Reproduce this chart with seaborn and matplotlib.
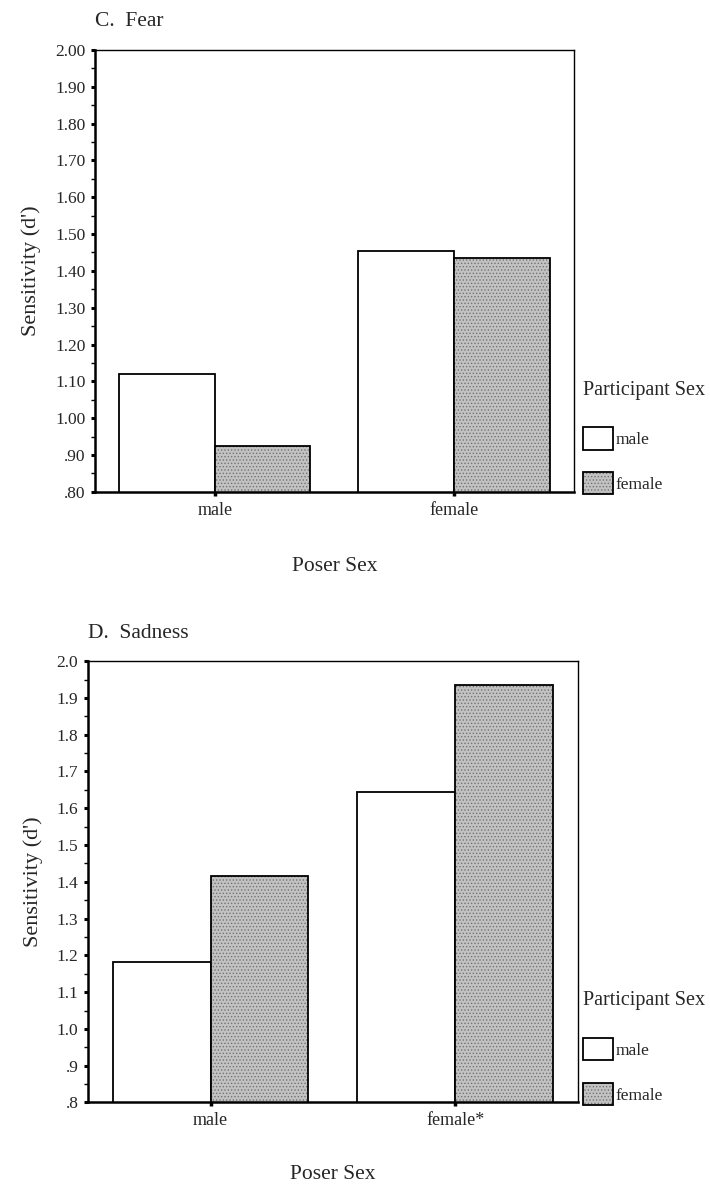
import pandas as pd
import seaborn as sns
import matplotlib.pyplot as plt
from matplotlib.patches import Patch
from matplotlib.ticker import MultipleLocator, FixedLocator

# =============================================================================
# Data
# =============================================================================

poser_fear = ['male', 'female']
poser_sad = ['male', 'female*']
participant = ['male', 'female']

fear_male_part = [1.12, 1.453]
fear_female_part = [0.925, 1.434]

sad_male_part = [1.183, 1.643]
sad_female_part = [1.415, 1.935]

yticks = [0.8, 0.9, 1.0, 1.1, 1.2, 1.3, 1.4, 1.5, 1.6, 1.7, 1.8, 1.9, 2.0]
fear_ticklabels = ['.80', '.90', '1.00', '1.10', '1.20', '1.30', '1.40',
                   '1.50', '1.60', '1.70', '1.80', '1.90', '2.00']
sad_ticklabels = ['.8', '.9', '1.0', '1.1', '1.2', '1.3', '1.4',
                  '1.5', '1.6', '1.7', '1.8', '1.9', '2.0']

df_fear = pd.DataFrame({
    'poser': poser_fear * 2,
    'participant': [participant[0]] * 2 + [participant[1]] * 2,
    'dprime': fear_male_part + fear_female_part,
})
df_sad = pd.DataFrame({
    'poser': poser_sad * 2,
    'participant': [participant[0]] * 2 + [participant[1]] * 2,
    'dprime': sad_male_part + sad_female_part,
})

# =============================================================================
# Plot
# =============================================================================

sns.set_theme(style='white')
plt.rcParams['font.family'] = ['Liberation Serif', 'DejaVu Serif']
plt.rcParams['hatch.linewidth'] = 0.6

palette = {'male': 'white', 'female': '#c2c2c2'}
stipple = (0.45, 0.45, 0.45, 1.0)

fig = plt.figure(figsize=(7.1, 11.88), dpi=100)
ax1 = fig.add_axes([0.134, 0.586, 0.674, 0.372])
ax2 = fig.add_axes([0.124, 0.072, 0.690, 0.3715])


def add_stipple(patch):
    patch.set_hatch('.....')
    patch._hatch_color = stipple  # keep black edge, grey dots


def draw_panel(ax, df, order, title, ticklabels, xpad, leg_x):
    sns.barplot(
        data=df, x='poser', y='dprime', hue='participant',
        order=order, hue_order=participant, palette=palette,
        saturation=1, edgecolor='black', linewidth=1.3,
        width=0.8, legend=False, ax=ax,
    )
    for p in ax.patches:
        if p.get_facecolor()[0] < 0.9:
            add_stipple(p)

    ax.set_xlim(-0.5, 1.5)
    ax.set_ylim(0.8, 2.0)
    ax.yaxis.set_major_locator(FixedLocator(yticks))
    ax.set_yticklabels(ticklabels)
    ax.yaxis.set_minor_locator(MultipleLocator(0.05))
    ax.tick_params(axis='y', which='major', direction='out', length=3,
                   width=2.2, color='black', left=True, pad=4, labelsize=12.5)
    ax.tick_params(axis='y', which='minor', direction='out', length=3,
                   width=1, color='black', left=True)
    ax.tick_params(axis='x', which='major', direction='out', length=3,
                   width=2.5, color='black', bottom=True, pad=4, labelsize=13)
    for s in ax.spines.values():
        s.set_color('black')
        s.set_linewidth(1.0)
    ax.spines['left'].set_linewidth(1.8)
    ax.spines['bottom'].set_linewidth(1.8)

    ax.set_xlabel('Poser Sex', fontsize=15.5, labelpad=xpad)
    ax.set_ylabel("Sensitivity (d')", fontsize=16, labelpad=10)
    ax.set_title(title, loc='left', fontsize=15.5, pad=17, x=0.0)

    female_handle = Patch(facecolor=palette['female'], edgecolor='black',
                          linewidth=1.3, label='female')
    add_stipple(female_handle)
    handles = [
        Patch(facecolor=palette['male'], edgecolor='black', linewidth=1.3, label='male'),
        female_handle,
    ]
    leg = ax.legend(
        handles=handles, title='Participant Sex',
        loc='lower left', bbox_to_anchor=(leg_x, -0.006),
        frameon=False, fontsize=12.5, title_fontsize=14.5,
        handlelength=1.72, handleheight=1.6, handletextpad=0.15,
        labelspacing=1.3, borderaxespad=0, borderpad=0,
    )
    leg._legend_box.align = 'left'
    leg._legend_box.sep = 20


draw_panel(ax1, df_fear, poser_fear, 'C.  Fear', fear_ticklabels, 28, 1.02)
draw_panel(ax2, df_sad, poser_sad, 'D.  Sadness', sad_ticklabels, 26, 1.01)

plt.savefig('out.png', dpi=100)
